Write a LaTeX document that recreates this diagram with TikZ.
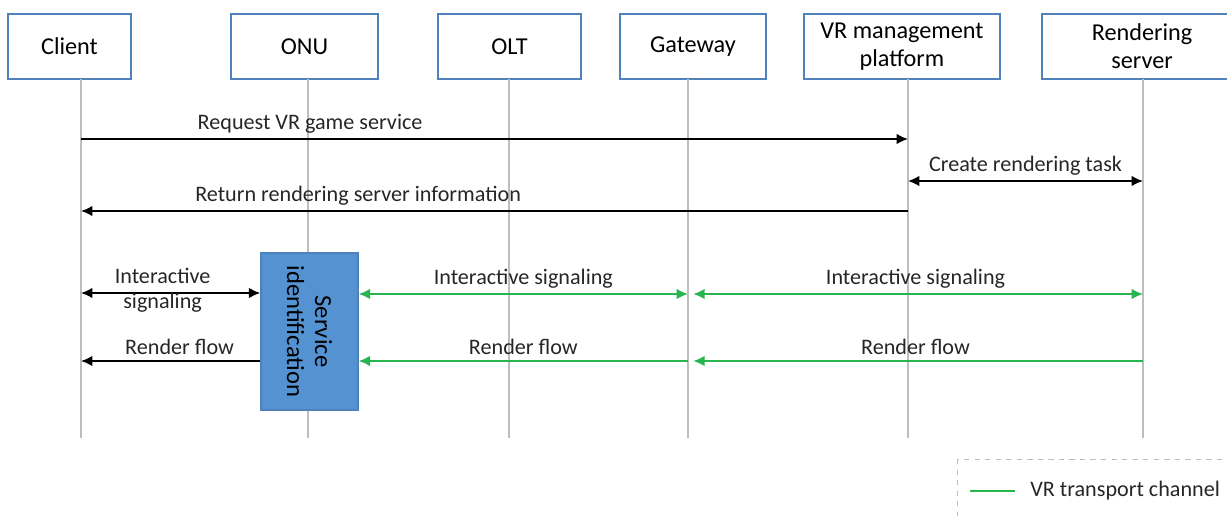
\documentclass[tikz,border=0pt]{standalone}
\usepackage{fontspec}
\setmainfont{Carlito}
\usetikzlibrary{arrows.meta, positioning}
\definecolor{boxline}{RGB}{79,129,189}
\definecolor{lifegray}{RGB}{190,190,190}
\definecolor{vrgreen}{RGB}{40,180,80}
\definecolor{siblue}{RGB}{84,146,210}
\definecolor{txt}{RGB}{38,38,38}

\begin{document}
\begin{tikzpicture}[x=0.02cm, y=-0.02cm, font=\fontsize{12.6}{14.5}\selectfont, text=txt,
    entity/.style={draw=boxline, line width=0.8pt, minimum height=1.3cm, align=center, inner sep=0pt,
        text=black, font=\fontsize{13.8}{16}\selectfont},
    life/.style={draw=lifegray, line width=0.6pt},
    msg/.style={draw=black, line width=1pt, -{Latex[length=6.5pt,width=6pt]}},
    both/.style={msg, {Latex[length=6.5pt,width=6pt]}-{Latex[length=6.5pt,width=6pt]}},
    chan/.style={draw=vrgreen},
    lbl/.style={above=2pt, inner sep=1pt}]
    \clip (0,0) rectangle (1227,516);

    % Define nodes
    \node[entity, minimum width=2.46cm] (client) at (69.5,46.5) {Client};
    \node[entity, minimum width=2.94cm] (onu) at (304.5,46.5) {ONU};
    \node[entity, minimum width=2.86cm] (olt) at (509.5,46.5) {OLT};
    \node[entity, minimum width=2.92cm] (gateway) at (693,46.5) {Gateway};
    \node[entity, minimum width=3.92cm] (vrmp) at (902,46.5) {VR management\\platform};
    \node[entity, minimum width=4cm] (rserver) at (1142,46.5) {Rendering\\server};

    % Lifelines
    \foreach \n/\x in {cl/81, on/308, ol/509, gw/688, vm/908, rs/1143} {
        \coordinate (\n-top) at (\x,79);
        \coordinate (\n-bot) at (\x,438);
        \draw[life] (\n-top) -- (\n-bot);
    }

    \node[draw=boxline, fill=siblue, line width=0.8pt, minimum width=1.94cm, minimum height=3.14cm] (svc) at (309.5,331.5) {};
    \node[rotate=-90, align=center, text=black, font=\fontsize{14}{16}\selectfont] (svctext) at (svc.center) {Service\\identification};

    % Message points
    \coordinate (m1a) at (81,139);   \coordinate (m1b) at (908,139);
    \coordinate (m2a) at (908,181);  \coordinate (m2b) at (1143,181);
    \coordinate (m3a) at (908,211);  \coordinate (m3b) at (81,211);
    \coordinate (m4a) at (81,293);
    \coordinate (m5a) at (688,294);  \coordinate (m5b) at (1143,294);
    \coordinate (m6a) at (81,361);
    \coordinate (m7a) at (688,361);  \coordinate (m7b) at (1143,361);

    % Draw edges
    \draw[msg] (m1a) -- node[lbl, pos=0.277] {Request VR game service} (m1b);
    \draw[both] (m2a) -- node[lbl] {Create rendering task} (m2b);
    \draw[msg] (m3a) -- node[lbl, pos=0.665] {Return rendering server information} (m3b);
    \draw[both] (m4a) -- node[align=center, pos=0.455, yshift=1.5pt] {Interactive\\signaling} (m4a -| svc.west);
    \draw[both, chan] (m5a -| svc.east) -- node[lbl] {Interactive signaling} (m5a);
    \draw[both, chan, shorten <=3pt] (m5a) -- node[lbl] {Interactive signaling} (m5b);
    \draw[msg] (m6a -| svc.west) -- node[lbl, pos=0.45] {Render flow} (m6a);
    \draw[msg, chan] (m7a) -- node[lbl] {Render flow} (m7a -| svc.east);
    \draw[msg, chan, shorten >=3pt] (m7b) -- node[lbl] {Render flow} (m7a);

    % Legend
    \draw[dashed, draw=lifegray, line width=0.5pt] (957,459) rectangle (1240,530);
    \coordinate (lg0) at (970,491);
    \coordinate (lg1) at (1015,491);
    \draw[chan, line width=1pt] (lg0) -- (lg1);
    \node[anchor=west, inner sep=0pt] (lgtext) at (1030,491) {VR transport channel};

\end{tikzpicture}
\end{document}
